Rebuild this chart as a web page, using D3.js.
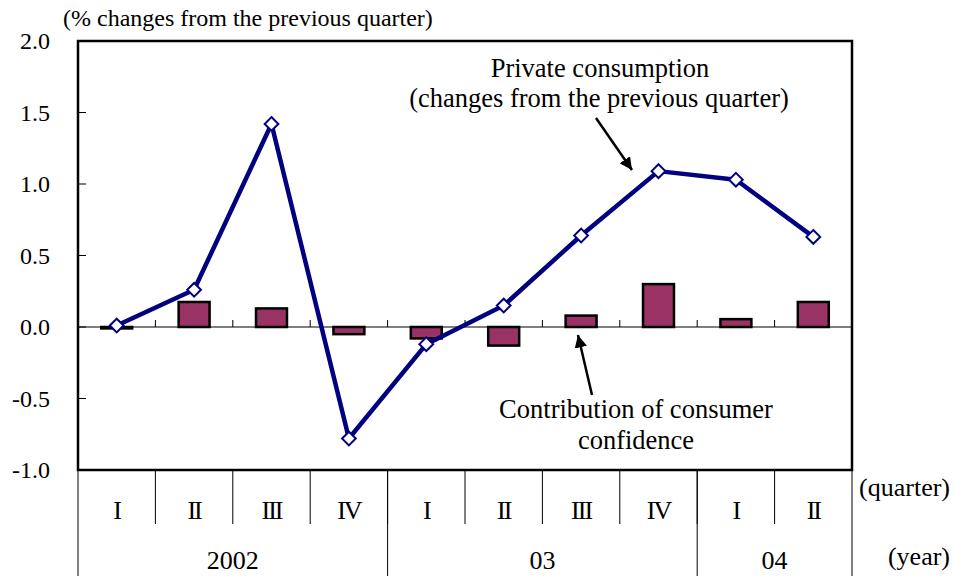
<!DOCTYPE html>
<html>
<head>
<meta charset="utf-8">
<script src="https://cdn.jsdelivr.net/npm/d3@7"></script>
<style>
  body { margin: 0; background: #fff; }
  svg text { font-family: "Liberation Serif", "Times New Roman", serif; fill: #000; }
</style>
</head>
<body>
<div id="chart"></div>
<script>
// data
const quarters = ['I', 'II', 'III', 'IV', 'I', 'II', 'III', 'IV', 'I', 'II']
const years = [{label: '2002', from: 0, to: 4}, {label: '03', from: 4, to: 8}, {label: '04', from: 8, to: 10}]
const consumption = [0.01, 0.26, 1.42, -0.78, -0.12, 0.15, 0.64, 1.09, 1.03, 0.63]
const confidence = [-0.01, 0.175, 0.13, -0.05, -0.08, -0.13, 0.08, 0.30, 0.055, 0.175]
const yTicks = [2.0, 1.5, 1.0, 0.5, 0.0, -0.5, -1.0]

const width = 954
const height = 576
const pLeft = 78, pRight = 852, pTop = 41, pBottom = 470

const svg = d3.select('#chart').append('svg').attr('width', width).attr('height', height)

const idx = d3.range(quarters.length)
const x = d3.scaleBand().domain(idx).range([pLeft, pRight]).padding(0)
const y = d3.scaleLinear().domain([-1, 2]).range([pBottom, pTop])
const bw = x.bandwidth()
const xEdge = i => i < quarters.length ? x(i) : pRight

// y axis labels + inward ticks
svg.selectAll('.ylab').data(yTicks).enter().append('text')
  .attr('x', 50).attr('y', d => y(d)).attr('dy', '0.35em')
  .attr('text-anchor', 'end').style('font-size', '24px')
  .text(d => d.toFixed(1))
svg.selectAll('.ytick').data(yTicks.filter(d => d > -1 && d < 2)).enter().append('line')
  .attr('x1', pLeft).attr('x2', pLeft + 8).attr('y1', d => y(d)).attr('y2', d => y(d))
  .attr('stroke', '#000').attr('stroke-width', 1)

svg.append('text').attr('x', 63).attr('y', 26).style('font-size', '24px')
  .text('(% changes from the previous quarter)')

// zero line with category ticks
svg.append('line').attr('x1', pLeft).attr('x2', pRight).attr('y1', y(0)).attr('y2', y(0))
  .attr('stroke', '#000').attr('stroke-width', 1)
svg.selectAll('.ztick').data(idx.slice(1)).enter().append('line')
  .attr('x1', d => x(d)).attr('x2', d => x(d)).attr('y1', y(0)).attr('y2', y(0) - 7)
  .attr('stroke', '#000').attr('stroke-width', 1)

// bars
svg.selectAll('.bar').data(confidence).enter().append('rect')
  .attr('x', (d, i) => x(i) + bw * 0.3)
  .attr('width', bw * 0.4)
  .attr('y', d => y(Math.max(0, d)))
  .attr('height', d => Math.abs(y(d) - y(0)))
  .attr('fill', '#993366').attr('stroke', '#000').attr('stroke-width', 2.5)

// line
const line = d3.line().x((d, i) => x(i) + bw / 2).y(d => y(d))
svg.append('path').datum(consumption).attr('d', line)
  .attr('fill', 'none').attr('stroke', '#000080').attr('stroke-width', 4.5).attr('stroke-linejoin', 'round')
svg.selectAll('.mark').data(consumption).enter().append('path')
  .attr('d', d3.symbol(d3.symbolDiamond2, 120))
  .attr('transform', (d, i) => `translate(${x(i) + bw / 2},${y(d)})`)
  .attr('fill', '#fff').attr('stroke', '#000080').attr('stroke-width', 2)

// plot frame
svg.append('rect').attr('x', pLeft).attr('y', pTop).attr('width', pRight - pLeft).attr('height', pBottom - pTop)
  .attr('fill', 'none').attr('stroke', '#000').attr('stroke-width', 2.5)

// category table under the plot
svg.selectAll('.qsep').data(idx.slice(1)).enter().append('line')
  .attr('x1', d => x(d)).attr('x2', d => x(d)).attr('y1', pBottom).attr('y2', 524)
  .attr('stroke', '#000').attr('stroke-width', 1)
svg.selectAll('.ysep').data([0, 4, 8, 10]).enter().append('line')
  .attr('x1', d => xEdge(d)).attr('x2', d => xEdge(d))
  .attr('y1', pBottom).attr('y2', height)
  .attr('stroke', '#000').attr('stroke-width', 1)
svg.selectAll('.qlab').data(quarters).enter().append('text')
  .attr('x', (d, i) => x(i) + bw / 2).attr('y', 510).attr('dy', '0.35em')
  .attr('text-anchor', 'middle').style('font-size', '26px').style('letter-spacing', '-2px')
  .text(d => d)
svg.selectAll('.yrlab').data(years).enter().append('text')
  .attr('x', d => (xEdge(d.from) + xEdge(d.to)) / 2).attr('y', 560).attr('dy', '0.35em')
  .attr('text-anchor', 'middle').style('font-size', '26px')
  .text(d => d.label)
svg.append('text').attr('x', 950).attr('y', 487).attr('dy', '0.35em').attr('text-anchor', 'end')
  .style('font-size', '26px').text('(quarter)')
svg.append('text').attr('x', 950).attr('y', 556).attr('dy', '0.35em').attr('text-anchor', 'end')
  .style('font-size', '26px').text('(year)')

// annotations
svg.append('defs').append('marker').attr('id', 'arr').attr('viewBox', '0 0 10 10')
  .attr('refX', 10).attr('refY', 5).attr('markerWidth', 5).attr('markerHeight', 5).attr('orient', 'auto')
  .append('path').attr('d', 'M0,0L10,5L0,10z').attr('fill', '#000')

svg.append('text').attr('x', 600).attr('y', 77).attr('text-anchor', 'middle').style('font-size', '26.5px')
  .text('Private consumption')
svg.append('text').attr('x', 599).attr('y', 107).attr('text-anchor', 'middle').style('font-size', '26.5px')
  .text('(changes from the previous quarter)')
svg.append('line').attr('x1', 596).attr('y1', 118).attr('x2', 632).attr('y2', 170)
  .attr('stroke', '#000').attr('stroke-width', 2.5).attr('marker-end', 'url(#arr)')

svg.append('text').attr('x', 636).attr('y', 418).attr('text-anchor', 'middle').style('font-size', '26.5px')
  .text('Contribution of consumer')
svg.append('text').attr('x', 636).attr('y', 449).attr('text-anchor', 'middle').style('font-size', '26.5px')
  .text('confidence')
svg.append('line').attr('x1', 592).attr('y1', 395).attr('x2', 578).attr('y2', 335)
  .attr('stroke', '#000').attr('stroke-width', 2.5).attr('marker-end', 'url(#arr)')
</script>
</body>
</html>
